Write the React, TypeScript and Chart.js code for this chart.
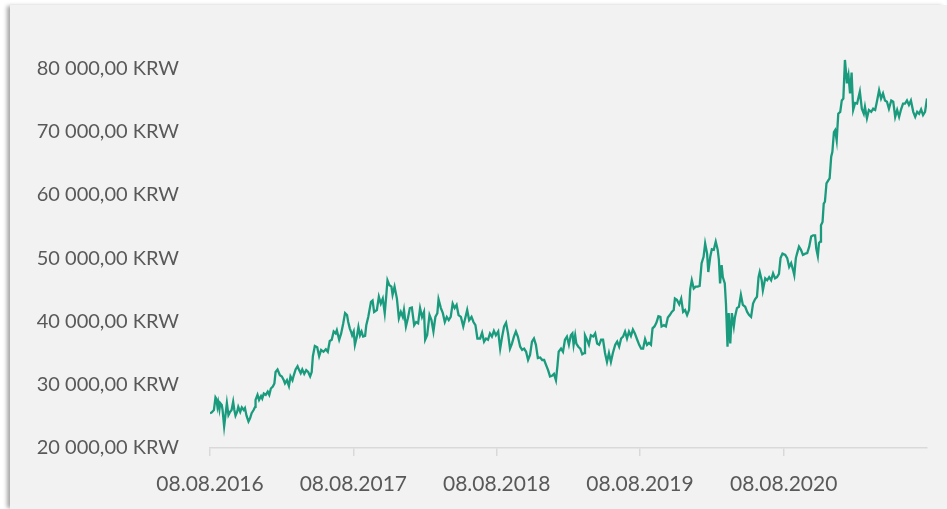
import React, { useEffect, useRef } from 'react';
import { Chart, registerables } from 'chart.js';

Chart.register(...registerables);

// Days counted from 08.08.2016
const dayOffsets = [
  0, 4, 10, 14, 16, 19, 21, 24, 26, 30, 32, 36, 40, 43, 47, 51, 55, 59, 62, 65,
  69, 72, 77, 81, 86, 89, 93, 98, 102, 106, 111, 115, 116, 121, 125, 130, 133, 137, 142, 147,
  151, 155, 160, 164, 167, 172, 178, 183, 188, 191, 196, 201, 205, 210, 213, 218, 223, 227, 231, 235,
  240, 245, 250, 255, 259, 262, 267, 273, 278, 283, 289, 295, 300, 305, 310, 315, 320, 323, 329, 334,
  339, 344, 349, 352, 356, 359, 362, 366, 369, 374, 378, 382, 386, 390, 395, 398, 403, 410, 414, 418,
  425, 430, 435, 440, 445, 448, 452, 457, 462, 465, 470, 476, 481, 486, 491, 494, 499, 504, 509, 514,
  520, 525, 530, 535, 540, 545, 548, 553, 559, 564, 569, 574, 579, 582, 588, 593, 598, 603, 608, 613,
  618, 623, 628, 633, 639, 645, 650, 655, 660, 666, 671, 676, 681, 688, 693, 698, 703, 708, 713, 718,
  723, 728, 734, 739, 744, 749, 754, 759, 764, 769, 774, 779, 784, 790, 795, 800, 805, 810, 815, 820,
  825, 830, 835, 841, 846, 851, 856, 861, 866, 871, 876, 881, 885, 888,
  894, 899, 904, 909, 914, 919, 923, 926, 930, 933, 938, 943, 948, 953, 955, 960, 965, 970, 976, 981,
  986, 991, 996, 1001, 1006, 1011, 1016, 1021, 1026, 1032, 1037, 1042, 1047, 1052, 1057, 1062, 1067, 1072, 1077, 1082,
  1088, 1093, 1098, 1103, 1108, 1113, 1118, 1123, 1127, 1132, 1137, 1142, 1147, 1150, 1156, 1161, 1166, 1171, 1176, 1181,
  1184, 1189, 1195, 1200, 1205, 1210, 1215, 1220, 1223, 1227, 1232, 1237, 1242, 1247, 1252, 1257, 1261, 1266, 1269, 1274,
  1278, 1283, 1288, 1293, 1296, 1299, 1303, 1306, 1311, 1314, 1318,
  1321, 1325, 1329, 1334, 1337, 1342, 1347, 1352, 1357, 1363, 1368, 1373, 1378, 1383, 1388, 1393, 1397, 1400, 1405, 1408,
  1414, 1419, 1424, 1429, 1434, 1439, 1444, 1449, 1453, 1458, 1465, 1470, 1475, 1480, 1485, 1488, 1492, 1495, 1500, 1505,
  1510, 1516, 1521, 1526, 1531, 1536, 1541, 1544, 1548, 1551, 1554, 1556, 1560, 1563, 1566, 1570, 1575, 1578, 1582, 1585,
  1589, 1592, 1596,
  1600, 1605, 1609, 1613, 1617, 1620, 1622, 1626, 1630, 1634, 1638, 1643, 1648, 1655, 1660, 1665, 1668, 1673, 1678, 1684,
  1689, 1694, 1699, 1704, 1709, 1714, 1719, 1724, 1729, 1735, 1740, 1745, 1750, 1755, 1760, 1765, 1770, 1775, 1780, 1785,
  1791, 1796, 1801, 1806, 1811, 1816, 1821, 1826,
];

const prices = [
  25500, 25600, 26000, 28000, 27800, 26500, 27200, 26100, 27100, 26800, 26000, 23400, 25500, 27100, 25200, 25700, 26000, 27300, 26000, 25100,
  25700, 26500, 25700, 26400, 26000, 26300, 25100, 24200, 24700, 25500, 26000, 26500, 27600, 28400, 27600, 28200, 27800, 28600, 28400, 28900,
  28400, 29400, 29700, 30200, 32000, 32400, 31500, 31300, 30700, 30200, 30700, 29800, 31300, 30700, 31400, 32400, 32900, 32300, 31800, 32400,
  31700, 32300, 32000, 31300, 32000, 34500, 36100, 35900, 34500, 35500, 35200, 35600, 35200, 36900, 37100, 38400, 38100, 38600, 37100, 38100,
  39600, 41300, 41000, 39900, 38900, 38400, 37800, 38400, 36300, 37600, 39100, 37800, 38400, 37600, 37700, 39400, 40700, 43100, 43300, 41500,
  41800, 43900, 42800, 43600, 41300, 43400, 46500, 45700, 45500, 44200, 45500, 43600, 40500, 41500, 40700, 41800, 39200, 40500, 42100, 42200,
  39400, 39900, 39700, 42100, 40700, 41500, 37100, 37800, 41000, 40200, 38400, 40700, 41300, 43500, 42100, 41300, 39900, 40700, 40200, 40700,
  42800, 42100, 42600, 41000, 40700, 39200, 40500, 41800, 40200, 40700, 39900, 39400, 37300, 37300, 38200, 36800, 37300, 37100, 38100, 37600,
  38500, 37800, 38400, 35700, 37600, 39200, 39800, 38100, 35700, 36500, 37600, 38400, 37600, 36000, 35500, 35700, 35200, 33900, 34700, 36800,
  37300, 36300, 34200, 34300, 33900, 33900, 33100, 32300, 31300, 31400, 31700, 30700, 33100, 35200,
  35700, 35200, 37100, 37600, 36300, 37800, 38100, 36300, 37800, 36500, 36000, 35700, 34800, 35000, 37800, 37100, 36300, 37800, 37600, 38100,
  36500, 36300, 37100, 37100, 35000, 33600, 35000, 33600, 35000, 36300, 36800, 36000, 37300, 37600, 38400, 37300, 38400, 37700, 38700, 38100,
  37100, 36300, 35700, 35700, 37200, 36300, 36600, 36300, 38900, 39200, 39800, 40800, 40700, 39200, 39400, 39200, 40600, 41000, 41500, 41800,
  43600, 43400, 42700, 43600, 41500, 41800, 41000, 41800, 45100, 46500, 45200, 45500, 45500, 45600, 49200, 50200, 52300, 50700, 47800, 50200,
  51400, 51300, 52600, 51300, 49700, 46000, 48900, 47000, 46000, 42800, 36000,
  41300, 36500, 41300, 39200, 40700, 42100, 42300, 44200, 42600, 42300, 41500, 41000, 40700, 42800, 43500, 43900, 47000, 47800, 46500, 44900,
  46800, 46500, 47000, 46500, 47600, 46800, 47000, 47500, 50000, 50700, 50500, 50000, 48600, 49200, 48100, 47300, 50000, 50700, 51800, 51300,
  50500, 50700, 50800, 51800, 53400, 53600, 53600, 51500, 50300, 52400, 52600, 55200, 55700, 58600, 58900, 61800, 62300, 62600, 66000, 66800,
  69900, 70200, 68600,
  72800, 73100, 74900, 75200, 81300, 79200, 77600, 78900, 76000, 79300, 73400, 74500, 74400, 76300, 73600, 72800, 73900, 72100, 73400, 73100,
  73600, 73400, 74900, 76500, 75200, 76000, 74900, 74700, 73600, 74900, 74700, 72300, 73400, 72300, 73500, 74400, 74400, 74900, 74200, 74900,
  73100, 72300, 73100, 72800, 73500, 72600, 73100, 75200,
];

const xTickDays = [0, 365, 730, 1095, 1461];
const xTickLabels = ['08.08.2016', '08.08.2017', '08.08.2018', '08.08.2019', '08.08.2020'];
const yTickValues = [20000, 30000, 40000, 50000, 60000, 70000, 80000];
const yTickLabels = [
  '20 000,00 KRW',
  '30 000,00 KRW',
  '40 000,00 KRW',
  '50 000,00 KRW',
  '60 000,00 KRW',
  '70 000,00 KRW',
  '80 000,00 KRW',
];

const LINE_COLOR = '#1a9b7d';
const TEXT_COLOR = '#595959';
const AXIS_COLOR = '#d9d9d9';
const FONT = 'Lato';

export default function App() {
  const canvasRef = useRef<HTMLCanvasElement | null>(null);

  useEffect(() => {
    const canvas = canvasRef.current;
    if (!canvas) return;
    const chart = new Chart(canvas, {
      type: 'line',
      data: {
        datasets: [
          {
            data: dayOffsets.map((d, i) => ({ x: d, y: prices[i] })),
            borderColor: LINE_COLOR,
            borderWidth: 2.3,
            pointRadius: 0,
            tension: 0,
            fill: false,
          },
        ],
      },
      options: {
        animation: false,
        responsive: false,
        maintainAspectRatio: false,
        layout: { padding: { top: 31.5, right: 20, left: 0, bottom: 0 } },
        plugins: { legend: { display: false }, tooltip: { enabled: false } },
        scales: {
          x: {
            type: 'linear',
            min: 0,
            max: dayOffsets[dayOffsets.length - 1],
            afterBuildTicks: (s: any) => {
              s.ticks = xTickDays.map((v) => ({ value: v }));
            },
            afterFit: (s: any) => {
              s.height = 61;
            },
            grid: {
              drawOnChartArea: false,
              drawTicks: true,
              tickLength: 8,
              color: AXIS_COLOR,
              lineWidth: 1.5,
            },
            border: { color: AXIS_COLOR, width: 1.5 },
            ticks: {
              padding: 16,
              color: TEXT_COLOR,
              font: { family: FONT, size: 21 },
              maxRotation: 0,
              autoSkip: false,
              callback: (v: any) => {
                const i = xTickDays.indexOf(Number(v));
                return i >= 0 ? xTickLabels[i] : '';
              },
            },
          },
          y: {
            type: 'linear',
            min: 20000,
            max: 85000,
            afterBuildTicks: (s: any) => {
              s.ticks = yTickValues.map((v) => ({ value: v }));
            },
            afterFit: (s: any) => {
              s.width = 200;
            },
            grid: {
              display: true,
              drawOnChartArea: false,
              drawTicks: true,
              tickLength: 31,
              color: 'rgba(0,0,0,0)',
            },
            border: { display: false },
            ticks: {
              padding: 0,
              color: TEXT_COLOR,
              font: { family: FONT, size: 20 },
              callback: (v: any) => {
                const i = yTickValues.indexOf(Number(v));
                return i >= 0 ? yTickLabels[i] : '';
              },
            },
          },
        },
      },
    });
    return () => chart.destroy();
  }, []);

  return (
    <div
      style={{
        position: 'fixed',
        left: 0,
        top: 0,
        width: 947,
        height: 509,
        background: '#ffffff',
        overflow: 'hidden',
      }}
    >
      <div
        style={{
          position: 'absolute',
          left: 10,
          top: 5,
          width: 937,
          height: 504,
          background: '#f2f2f2',
          boxShadow: '-4px 0 4px -1px rgba(0,0,0,0.35)',
        }}
      >
        <canvas ref={canvasRef} width={937} height={504} style={{ display: 'block', width: 937, height: 504 }} />
      </div>
    </div>
  );
}
